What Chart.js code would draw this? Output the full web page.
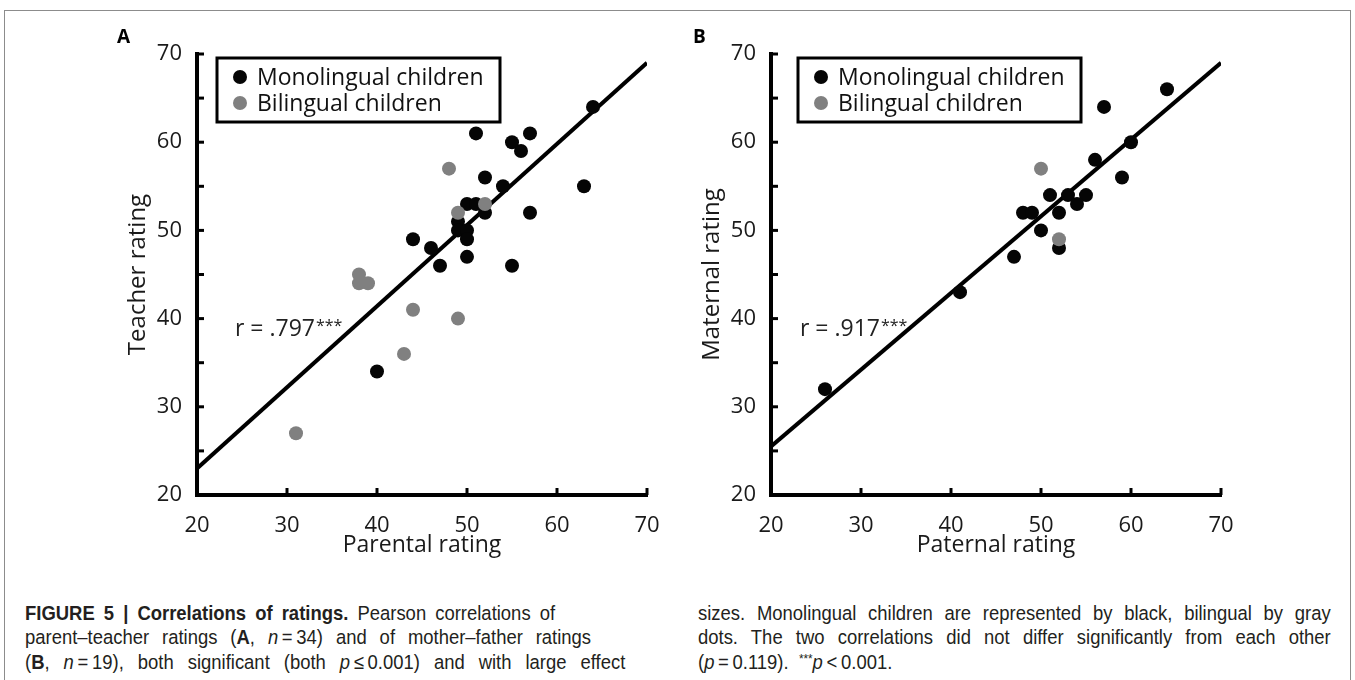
<!DOCTYPE html>
<html>
<head>
<meta charset="utf-8">
<script src="https://cdn.jsdelivr.net/npm/chart.js@4.4.0/dist/chart.umd.min.js"></script>
<style>
body{margin:0;background:#fff;}
#fig{position:relative;width:1355px;height:680px;overflow:hidden;background:#fff;}
#frame{position:absolute;left:4px;top:10px;width:1345px;height:720px;border:1.5px solid #8c8c8c;}
canvas{position:absolute;top:0;}
#cA{left:0;}
#cB{left:680px;}
.cap{position:absolute;font-family:"Liberation Sans",Arial,sans-serif;font-size:20.5px;line-height:24px;color:#231f20;white-space:nowrap;text-align:justify;text-align-last:justify;transform:scaleX(0.9);transform-origin:0 0;}
.cap.last{text-align:left;text-align-last:left;}
.cap sup{font-size:13px;vertical-align:6px;line-height:0;}
</style>
</head>
<body>
<div id="fig">
  <div id="frame"></div>
  <canvas id="cA" width="680" height="563"></canvas>
  <canvas id="cB" width="675" height="563"></canvas>

  <!-- widths are the on-screen widths divided by the 0.9 squeeze -->
  <div class="cap" style="left:25px;top:601px;width:589px;"><b>FIGURE 5 | Correlations of ratings.</b> Pearson correlations of</div>
  <div class="cap" style="left:25px;top:625px;width:629px;">parent–teacher ratings (<b>A</b>, <i>n</i>&#8201;=&#8201;34) and of mother–father ratings</div>
  <div class="cap" style="left:25px;top:650px;width:667px;">(<b>B</b>, <i>n</i>&#8201;=&#8201;19), both significant (both <i>p</i>&#8201;≤&#8201;0.001) and with large effect</div>

  <div class="cap" style="left:698px;top:601px;width:703px;">sizes. Monolingual children are represented by black, bilingual by gray</div>
  <div class="cap" style="left:698px;top:625px;width:703px;">dots. The two correlations did not differ significantly from each other</div>
  <div class="cap last" style="left:698px;top:650px;">(<i>p</i>&#8201;=&#8201;0.119). &nbsp;<sup>***</sup><i>p</i>&#8201;&lt;&#8201;0.001.</div>
</div>

<script>
// values
var axisMin = 20;
var axisMax = 70;
var seriesNames = ['Monolingual children', 'Bilingual children'];

// panel A: parental (x) vs teacher (y)
var parentMono  = [64, 51, 57, 55, 56, 63, 54, 52, 50, 51, 52, 57, 49, 49, 50, 50, 44, 46, 47, 50, 55, 40];
var teacherMono = [64, 61, 61, 60, 59, 55, 55, 56, 53, 53, 52, 52, 51, 50, 50, 49, 49, 48, 46, 47, 46, 34];
var parentBi    = [48, 49, 52, 38, 38, 39, 44, 49, 43, 31];
var teacherBi   = [57, 52, 53, 45, 44, 44, 41, 40, 36, 27];
var fitA        = [23, 69];   // regression line at x = 20 and x = 70

// panel B: paternal (x) vs maternal (y)
var paternalMono = [64, 57, 60, 56, 59, 51, 53, 55, 54, 52, 48, 49, 50, 52, 47, 41, 26];
var maternalMono = [66, 64, 60, 58, 56, 54, 54, 54, 53, 52, 52, 52, 50, 48, 47, 43, 32];
var paternalBi   = [50, 52];
var maternalBi   = [57, 49];
var fitB         = [25.5, 69];

var FONT = "'Open Sans', 'DejaVu Sans', sans-serif";
var monoColor = '#050505';
var biColor = '#808080';

function pairs(xs, ys) {
    var out = [];
    for (var i = 0; i < xs.length; i++) {
        out.push({x: xs[i], y: ys[i]});
    }
    return out;
}

// inward ticks, boxed legend, r value and panel letter
var figExtras = {
    id: 'figExtras',
    afterDraw: function(chart) {
        var o = chart.options.plugins.figExtras;
        var ctx = chart.ctx;
        var area = chart.chartArea;
        var xs = chart.scales.x;
        var ys = chart.scales.y;
        ctx.save();

        //ticks pointing into the plot
        ctx.strokeStyle = '#000';
        ctx.lineWidth = 3;
        ys.ticks.forEach(function(t) {
            if (t.value == axisMin) return;
            var py = ys.getPixelForValue(t.value);
            ctx.beginPath();
            ctx.moveTo(area.left, py);
            ctx.lineTo(area.left + 7, py);
            ctx.stroke();
        });
        xs.ticks.forEach(function(t) {
            if (t.value == axisMin) return;
            var px = xs.getPixelForValue(t.value);
            ctx.beginPath();
            ctx.moveTo(px, area.bottom);
            ctx.lineTo(px, area.bottom - 7);
            ctx.stroke();
        });

        //legend box, in dataset order
        var bx = area.left + o.legendX;
        var by = area.top + 4;
        ctx.lineWidth = 3;
        ctx.strokeStyle = '#000';
        ctx.fillStyle = '#fff';
        ctx.fillRect(bx, by, 283, 64);
        ctx.strokeRect(bx, by, 283, 64);
        ctx.font = '23px ' + FONT;
        ctx.textBaseline = 'middle';
        ctx.textAlign = 'left';
        var row = 0;
        chart.data.datasets.forEach(function(ds) {
            if (ds.showLine) return;
            var cy = by + 19 + row * 26;
            ctx.fillStyle = ds.backgroundColor;
            ctx.beginPath();
            ctx.arc(bx + 23, cy, 7, 0, Math.PI * 2);
            ctx.fill();
            ctx.fillStyle = '#111';
            ctx.fillText(ds.label, bx + 40, cy + 1);
            row++;
        });

        //correlation value
        ctx.textBaseline = 'alphabetic';
        ctx.fillStyle = '#222';
        ctx.font = '23px ' + FONT;
        var rx = area.left + o.rX;
        var ry = area.top + 282;
        ctx.fillText(o.rText, rx, ry);
        var w = ctx.measureText(o.rText).width;
        ctx.font = '16px ' + FONT;
        ctx.fillText('***', rx + w + 1, ry - 5);

        //panel letter
        ctx.fillStyle = '#000';
        ctx.font = 'bold 19px ' + FONT;
        ctx.fillText(o.letter, o.letterX, 43);
        ctx.restore();
    }
};

function makePanel(id, opts) {
    var ctx = document.getElementById(id).getContext('2d');
    return new Chart(ctx, {
        type: 'scatter',
        data: {
            datasets: [{
                label: seriesNames[0],
                data: opts.mono,
                backgroundColor: monoColor,
                borderWidth: 0,
                pointRadius: 7,
                order: 2
            }, {
                label: seriesNames[1],
                data: opts.bi,
                backgroundColor: biColor,
                borderWidth: 0,
                pointRadius: 7,
                order: 1
            }, {
                label: 'fit',
                data: [{x: axisMin, y: opts.fit[0]}, {x: axisMax, y: opts.fit[1]}],
                showLine: true,
                borderColor: '#000',
                borderWidth: 4,
                pointRadius: 0,
                order: 3
            }]
        },
        options: {
            responsive: false,
            animation: false,
            devicePixelRatio: 1,
            layout: {padding: {left: opts.padLeft, right: opts.padRight, top: 54, bottom: 0}},
            plugins: {
                legend: {display: false},
                tooltip: {enabled: false},
                figExtras: {
                    legendX: opts.legendX,
                    rX: opts.rX,
                    rText: opts.rText,
                    letter: opts.letter,
                    letterX: opts.letterX
                }
            },
            scales: {
                x: {
                    type: 'linear',
                    min: axisMin,
                    max: axisMax,
                    grid: {display: false},
                    border: {display: true, color: '#000', width: 4},
                    ticks: {stepSize: 10, padding: 10, autoSkip: false, maxRotation: 0, color: '#1a1a1a', font: {family: FONT, size: 22}},
                    title: {display: true, text: opts.xTitle, color: '#1a1a1a', font: {family: FONT, size: 23}, padding: {top: 4, bottom: 4}},
                    afterFit: function(s) { s.height = 68; }
                },
                y: {
                    type: 'linear',
                    min: axisMin,
                    max: axisMax,
                    grid: {display: false},
                    border: {display: true, color: '#000', width: 4},
                    ticks: {
                        stepSize: 5,
                        padding: 7,
                        autoSkip: false,
                        color: '#1a1a1a',
                        font: {family: FONT, size: 22},
                        callback: function(v) { return v % 10 == 0 ? v : ''; }
                    },
                    title: {display: true, text: opts.yTitle, color: '#1a1a1a', font: {family: FONT, size: 24}, padding: {top: 4, bottom: 4}},
                    afterFit: function(s) { s.width = 77; }
                }
            }
        },
        plugins: [figExtras]
    });
}

makePanel('cA', {
    mono: pairs(parentMono, teacherMono),
    bi: pairs(parentBi, teacherBi),
    fit: fitA,
    xTitle: 'Parental rating',
    yTitle: 'Teacher rating',
    padLeft: 120,
    padRight: 33,
    legendX: 20,
    rX: 38,
    rText: 'r = .797',
    letter: 'A',
    letterX: 117
});

makePanel('cB', {
    mono: pairs(paternalMono, maternalMono),
    bi: pairs(paternalBi, maternalBi),
    fit: fitB,
    xTitle: 'Paternal rating',
    yTitle: 'Maternal rating',
    padLeft: 14,
    padRight: 134,
    legendX: 27,
    rX: 29,
    rText: 'r = .917',
    letter: 'B',
    letterX: 13
});
</script>
</body>
</html>
